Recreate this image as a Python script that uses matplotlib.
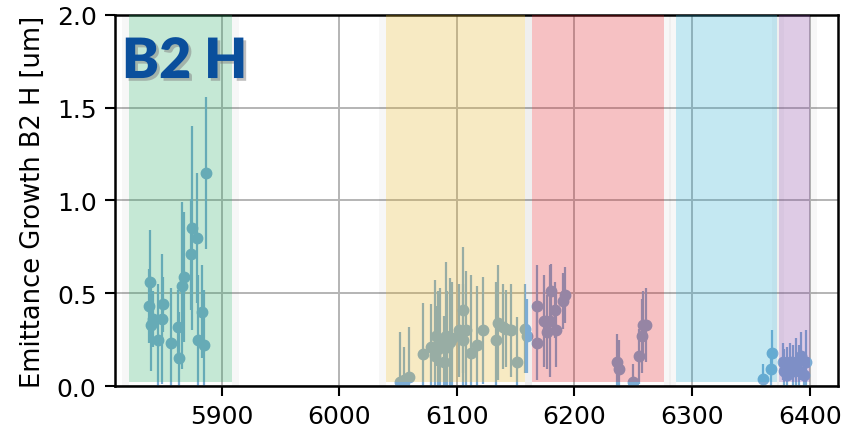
import numpy as np
import matplotlib.pyplot as plt
import matplotlib.patheffects as pe

# fill numbers and measured emittance growth (um) with errors, per fill period
green_fill = [5839, 5838, 5840, 5842, 5846, 5849, 5850, 5857, 5863, 5864,
              5866, 5868, 5874, 5875, 5879, 5880, 5883, 5885, 5887]
green_eg = [0.56, 0.43, 0.33, 0.36, 0.25, 0.36, 0.44, 0.23, 0.32, 0.15,
            0.54, 0.59, 0.71, 0.85, 0.80, 0.25, 0.40, 0.22, 1.15]
green_err = [0.28, 0.20, 0.25, 0.15, 0.30, 0.35, 0.15, 0.30, 0.20, 0.25,
             0.45, 0.35, 0.30, 0.55, 0.35, 0.35, 0.25, 0.30, 0.41]

yellow_fill = [6052, 6055, 6059, 6071, 6078, 6081, 6082, 6084, 6086, 6089,
               6091, 6092, 6094, 6096, 6102, 6105, 6105, 6108, 6112, 6117,
               6122, 6133, 6135, 6139, 6142, 6146, 6151, 6158, 6160]
yellow_eg = [0.02, 0.03, 0.05, 0.17, 0.21, 0.16, 0.27, 0.20, 0.23, 0.13,
             0.27, 0.21, 0.24, 0.26, 0.30, 0.41, 0.25, 0.30, 0.18, 0.22,
             0.30, 0.25, 0.34, 0.32, 0.31, 0.30, 0.13, 0.31, 0.27]
yellow_err = [0.27, 0.18, 0.27, 0.28, 0.23, 0.41, 0.16, 0.31, 0.30, 0.25,
              0.40, 0.30, 0.34, 0.30, 0.25, 0.34, 0.30, 0.32, 0.42, 0.32,
              0.29, 0.31, 0.31, 0.23, 0.21, 0.25, 0.24, 0.24, 0.20]

red_fill = [6168, 6168, 6174, 6177, 6179, 6180, 6183, 6184, 6190, 6192,
            6236, 6238, 6250, 6255, 6257, 6258, 6261]
red_eg = [0.43, 0.23, 0.35, 0.29, 0.35, 0.51, 0.41, 0.30, 0.46, 0.49,
          0.13, 0.09, 0.02, 0.16, 0.27, 0.33, 0.33]
red_err = [0.22, 0.20, 0.25, 0.20, 0.30, 0.15, 0.15, 0.20, 0.15, 0.15,
           0.15, 0.16, 0.10, 0.15, 0.20, 0.18, 0.20]

blue_fill = [6360, 6367, 6368, 6377, 6378, 6381, 6383, 6386, 6388, 6391,
             6393, 6395, 6397]
blue_eg = [0.04, 0.09, 0.18, 0.13, 0.08, 0.06, 0.13, 0.08, 0.13, 0.08,
           0.16, 0.06, 0.13]
blue_err = [0.08, 0.10, 0.12, 0.10, 0.12, 0.15, 0.10, 0.14, 0.13, 0.14,
            0.13, 0.10, 0.17]

# fill ranges of each period and their colours
period_start = [5821, 6040, 6164, 6286, 6374]
period_end = [5909, 6158, 6276, 6372, 6400]
period_color = ['#2caa67', '#e5b224', '#de1d24', '#28aacf', '#8542a2']

fills = np.concatenate([green_fill, yellow_fill, red_fill, blue_fill])
eg = np.concatenate([green_eg, yellow_eg, red_eg, blue_eg])
err = np.concatenate([green_err, yellow_err, red_err, blue_err])

fig = plt.figure(figsize=(8.43, 4.31), dpi=100)
ax = fig.add_axes([0.136, 0.102, 0.858, 0.861])

ax.errorbar(fills, eg, yerr=err, fmt='o', color='#7cacd4', ms=7.5,
            elinewidth=1.6, capsize=0, zorder=2)

for x0, x1, c in zip(period_start, period_end, period_color):
    # soft grey margin on both sides of each period
    ax.axvspan(x0 - 6, x0, color='#000000', alpha=0.03, lw=0, zorder=1)
    ax.axvspan(x1, x1 + 6, color='#000000', alpha=0.03, lw=0, zorder=1)
    ax.axvspan(x0, x1, ymin=0.01, color=c, alpha=0.27, lw=0, zorder=3)

ax.set_xlim(5809, 6424)
ax.set_ylim(0, 2.0)
ax.set_xticks([5900, 6000, 6100, 6200, 6300, 6400])
ax.set_yticks([0.0, 0.5, 1.0, 1.5, 2.0])
ax.grid(True, color='#b4b4b4', lw=1.4, zorder=0)
ax.set_axisbelow(True)
ax.tick_params(labelsize=18, width=1.5, length=7, pad=6)
for s in ax.spines.values():
    s.set_linewidth(1.8)
ax.set_ylabel('Emittance Growth B2 H [um]', fontsize=18.5, labelpad=8)

ax.text(0.01, 0.83, 'B2 H', transform=ax.transAxes, fontsize=40,
        fontweight='heavy', family='Lato', color='#0a4f9c', zorder=5,
        path_effects=[pe.withSimplePatchShadow(offset=(2, -2),
                                              shadow_rgbFace='#808080',
                                              alpha=0.5)])

plt.savefig('out.png')
